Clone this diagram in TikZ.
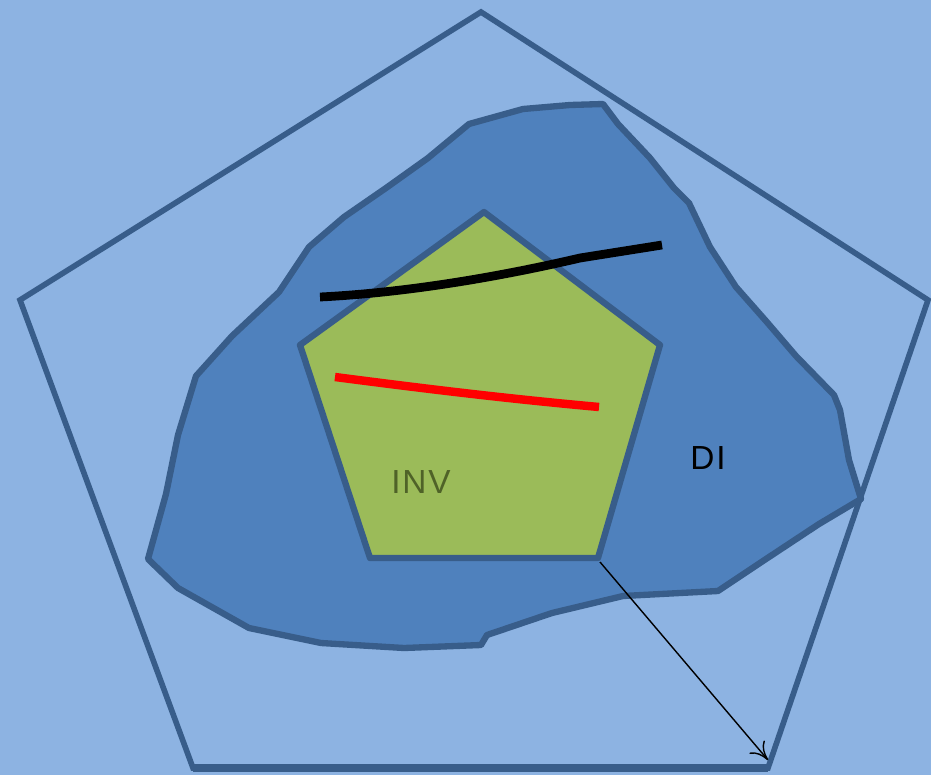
\documentclass[tikz,border=0pt]{standalone}
\usepackage{fontspec}
\usetikzlibrary{arrows.meta}
\setmainfont{Liberation Sans}
\definecolor{skyback}{HTML}{8DB3E2}
\definecolor{blobblue}{HTML}{4F81BD}
\definecolor{edgeblue}{HTML}{385D8A}
\definecolor{invgreen}{HTML}{9BBB59}
\definecolor{invtext}{HTML}{4F6228}
\tikzset{
  edge/.style={draw=edgeblue, line width=3.6pt, line join=round},
  lbl/.style={font=\fontsize{19}{22}\selectfont, inner sep=0pt}
}
\begin{document}
\begin{tikzpicture}[x=0.02cm, y=-0.02cm]
% background
\fill[skyback] (0,0) rectangle (931,775);
\useasboundingbox (0,0) rectangle (931,775);
% DI region
\draw[edge, fill=blobblue] (603,104) -- (618,124) -- (650,158) -- (674,188) -- (689,203) -- (710,247)
  -- (736,287) -- (766,321) -- (796,356) -- (834,395) -- (840,410) -- (849,460) -- (861,499)
  -- (819,524) -- (766,559) -- (718,591) -- (623,596) -- (552,613) -- (487,635) -- (481,645)
  -- (404,648) -- (321,643) -- (249,628) -- (178,588) -- (148,559) -- (166,494) -- (178,435)
  -- (196,376) -- (232,336) -- (279,292) -- (309,247) -- (344,217) -- (386,188) -- (428,158)
  -- (469,124) -- (523,109) -- (570,105) -- cycle;
% outer pentagon
\draw[edgeblue, line width=3.2pt, line join=miter] (481,12) -- (928,300) -- (768,768) -- (193,768) -- (20,300) -- cycle;
\draw[edgeblue, line width=4.4pt] (193,768) -- (768,768);
% INV pentagon
\draw[edge, fill=invgreen] (484,212) -- (660,345) -- (598,558) -- (370,558) -- (300,345) -- cycle;
% lines
\draw[black, line width=5pt] (320,297) .. controls (420,292) and (520,272) .. (580,258) -- (662,245);
\draw[red, line width=4.8pt] (335,377) .. controls (420,388) and (500,398) .. (599,407);
% labels
\node[lbl, text=invtext] (inv) at (421,482) {I\kern1ptN\kern1ptV};
\node[lbl, text=black] (di) at (708,458) {D\kern1ptI};
% arrow
\coordinate (invcorner) at (600,562);
\coordinate (outcorner) at (768,760);
\draw[-{To[length=3.5mm,width=4mm]}, black, line width=0.8pt] (invcorner) -- (outcorner);
\end{tikzpicture}
\end{document}
